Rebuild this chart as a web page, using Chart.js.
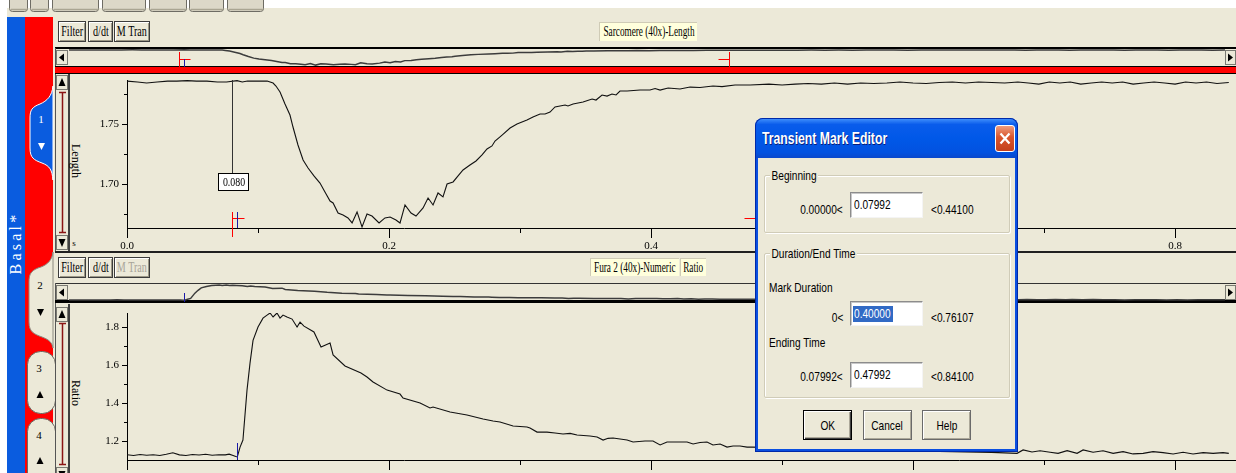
<!DOCTYPE html>
<html>
<head>
<meta charset="utf-8">
<title>Sarcomere length and Fura-2 ratio transient</title>
<script src="https://cdn.jsdelivr.net/npm/chart.js@4.4.1/dist/chart.umd.min.js"></script>
<style>
html,body{margin:0;padding:0}
body{width:1236px;height:473px;overflow:hidden;position:relative;background:#ECE9D8;font-family:"Liberation Serif","Times New Roman",serif;color:#000}
canvas{position:absolute;display:block}
#chrome{position:absolute;left:0;top:0}
.pbtn{position:absolute;box-sizing:border-box;height:21px;background:#ECE9D8;border:1px solid #3C3C3C;box-shadow:inset 1px 1px #fff,inset -1px -1px #9C9886;display:flex;align-items:center;justify-content:center;font-size:14px;overflow:hidden}
.pbtn span,.tag span{display:inline-block;white-space:nowrap;transform:scaleX(.72)}
.tag span{transform:scaleX(.66)}
.pbtn.dis{color:#A8A498}
.tag{position:absolute;box-sizing:border-box;height:19px;background:#FFFFDC;border-top:1px solid #CFCBB6;border-left:1px solid #CFCBB6;display:flex;align-items:center;justify-content:center;font-size:14px;overflow:hidden}
.vt{position:absolute;font-size:12px;white-space:nowrap;transform:translate(-50%,-50%) rotate(90deg)}
#dlg{position:absolute;left:755px;top:118px;width:263px;height:334px;background:#0A4FE0;border-radius:8px 8px 0 0;box-shadow:inset 0 0 0 1px #0029A8;font-family:"Liberation Sans",Arial,sans-serif;font-size:13.5px}
#dlg .bar{position:absolute;left:1px;top:1px;width:261px;height:39px;border-radius:7px 7px 0 0;background:linear-gradient(#3E8DFB 0%,#0A5CEB 14%,#0058E8 50%,#0252E0 86%,#0A48CC 100%)}
#dlg .body{position:absolute;left:3px;top:40px;width:257px;height:291px;background:#ECE9D8}
#dlg .ttl{position:absolute;left:7px;top:12px;font-size:17px;font-weight:bold;line-height:17px;color:#fff;white-space:nowrap;transform:scaleX(.72);transform-origin:0 0;text-shadow:1px 1px #0A1C78}
#dlg .x{position:absolute;left:240px;top:7px;width:20px;height:27px;box-sizing:border-box;border:1px solid #fff;border-radius:3px;background:linear-gradient(#EE9C7E,#D9552C 45%,#C4401C)}
#dlg .t{position:absolute;white-space:nowrap;line-height:14px;transform:scaleX(.75);transform-origin:0 0}
#dlg .tr{position:absolute;white-space:nowrap;line-height:14px;transform:scaleX(.75);transform-origin:100% 0}
#dlg .grp{position:absolute;box-sizing:border-box;border:1px solid #D0CCB8;box-shadow:inset 1px 1px #fff,1px 1px #fff;border-radius:2px}
#dlg .lg{background:#ECE9D8;padding:0 2px}
#dlg .in{position:absolute;box-sizing:border-box;width:73px;background:#fff;border-top:1px solid #8C8C8C;border-left:1px solid #8C8C8C;border-right:1px solid #F4F4F4;border-bottom:1px solid #F4F4F4;box-shadow:inset 1px 1px #C8C8C8}
#dlg .in .t{left:3px;top:5px}
#dlg .sel{position:absolute;left:2px;top:4px;width:40px;height:16px;background:#316AC5}
#dlg .btn{position:absolute;box-sizing:border-box;top:292px;width:49px;height:30px;background:#ECE9D8;border:1px solid #6A6A6A;box-shadow:inset 1px 1px #fff,inset -1px -1px #ACA899;display:flex;align-items:center;justify-content:center}
#dlg .btn span{display:inline-block;transform:scaleX(.75);white-space:nowrap}
#dlg .btn.def{border:1px solid #000;box-shadow:inset 1px 1px #fff,inset -1px -1px #404040,inset -2px -2px #ACA899}
</style>
</head>
<body>

<svg id="chrome" width="1236" height="473" xmlns="http://www.w3.org/2000/svg" font-family="Liberation Serif, serif">
  <rect x="0" y="0" width="1236" height="8" fill="#fff"/>
  <rect x="0" y="8" width="7" height="465" fill="#fff"/>
  <!-- toolbar button bottoms -->
  <g fill="#DCD8C8" stroke="#6E6C64">
    <rect x="9.5" y="-6.5" width="18" height="18" rx="3"/>
    <rect x="30.5" y="-6.5" width="18" height="18" rx="3"/>
    <rect x="52.5" y="-6.5" width="46" height="18" rx="3"/>
    <rect x="102.5" y="-6.5" width="43" height="18" rx="3"/>
    <rect x="149.5" y="-6.5" width="37" height="18" rx="3"/>
    <rect x="189.5" y="-6.5" width="34" height="18" rx="3"/>
    <rect x="227.5" y="-6.5" width="36" height="18" rx="3"/>
  </g>
  <g stroke="#A9A592" stroke-width="1.5">
    <line x1="11" y1="9.5" x2="27" y2="9.5"/><line x1="32" y1="9.5" x2="48" y2="9.5"/>
    <line x1="54" y1="9.5" x2="98" y2="9.5"/><line x1="104" y1="9.5" x2="145" y2="9.5"/>
    <line x1="151" y1="9.5" x2="186" y2="9.5"/><line x1="191" y1="9.5" x2="223" y2="9.5"/>
    <line x1="229" y1="9.5" x2="263" y2="9.5"/>
  </g>

  <!-- channel tabs -->
  <rect x="7" y="17" width="18" height="456" fill="#0A5CDF"/>
  <rect x="25" y="17" width="28" height="456" fill="#FF0000"/>
  <path d="M53,86 C52,96 47,101 40,104 C32,107 30,110 30,118 L30,148 C30,158 34,160 42,163 C50,166 52,170 53,180 Z" fill="#0A5CDF" stroke="#fff" stroke-width="1"/>
  <path d="M53,252 C52,262 45,266 38,268 C31,271 29,274 29,282 L29,322 C29,332 34,334 42,337 C50,340 52,343 53,348 Z" fill="#ECE9D8" stroke="#8C8A80" stroke-width="1"/>
  <rect x="27.5" y="351.5" width="28" height="62" rx="13" fill="#ECE9D8" stroke="#6C6A62"/>
  <rect x="27.5" y="418.5" width="28" height="70" rx="13" fill="#ECE9D8" stroke="#6C6A62"/>
  <g font-size="11" text-anchor="middle">
    <text x="41" y="123" fill="#fff">1</text>
    <text x="40" y="289">2</text>
    <text x="39" y="372">3</text>
    <text x="39" y="439">4</text>
  </g>
  <polygon points="38,143 45,143 41.5,150" fill="#fff"/>
  <polygon points="37,309 44,309 40.5,316" fill="#000"/>
  <polygon points="36.5,398 43.5,398 40,391" fill="#000"/>
  <polygon points="36.5,464 43.5,464 40,457" fill="#000"/>
  <text transform="translate(21,243) rotate(-90)" text-anchor="middle" font-size="16" letter-spacing="3.2" fill="#fff">Basal*</text>

  <!-- upper channel frame -->
  <rect x="55" y="47" width="1181" height="2" fill="#000"/>
  <rect x="55" y="48" width="1" height="204" fill="#555"/>
  <rect x="56.5" y="50.5" width="11" height="14" fill="#ECE9D8" stroke="#7A7A72"/>
  <polygon points="59,57.5 64,53.5 64,61.5" fill="#000"/>
  <rect x="1225.5" y="50.5" width="10" height="14" fill="#ECE9D8" stroke="#7A7A72"/>
  <polygon points="1233,57.5 1228,53.5 1228,61.5" fill="#000"/>
  <rect x="55" y="66" width="1181" height="1" fill="#000"/>
  <rect x="55" y="67" width="1181" height="6" fill="#FF0000"/>
  <rect x="55" y="73" width="1181" height="1" fill="#000"/>
  <rect x="56.5" y="75.5" width="11" height="14" fill="#ECE9D8" stroke="#7A7A72"/>
  <polygon points="62,78 58.5,86 65.5,86" fill="#000"/>
  <path d="M59,92.5 H66 M62.5,92.5 V232.5 M59,232.5 H66" stroke="#8B1414" stroke-width="1.5" fill="none"/>
  <rect x="56.5" y="235.5" width="11" height="14" fill="#ECE9D8" stroke="#7A7A72"/>
  <polygon points="62,247 58.5,239 65.5,239" fill="#000"/>
  <rect x="68" y="74" width="2" height="178" fill="#404040"/>
  <rect x="55" y="251" width="1181" height="2" fill="#202020"/>

  <!-- lower channel frame -->
  <rect x="55" y="283" width="1181" height="1" fill="#333"/>
  <rect x="55" y="283" width="1" height="190" fill="#555"/>
  <rect x="56.5" y="285.5" width="11" height="14" fill="#ECE9D8" stroke="#7A7A72"/>
  <polygon points="59,292.5 64,288.5 64,296.5" fill="#000"/>
  <rect x="1225.5" y="285.5" width="10" height="14" fill="#ECE9D8" stroke="#7A7A72"/>
  <polygon points="1233,292.5 1228,288.5 1228,296.5" fill="#000"/>
  <rect x="55" y="300" width="1181" height="3" fill="#000"/>
  <rect x="56.5" y="307.5" width="11" height="14" fill="#ECE9D8" stroke="#7A7A72"/>
  <polygon points="62,310 58.5,318 65.5,318" fill="#000"/>
  <path d="M59,323.5 H66 M62.5,323.5 V464.5 M59,464.5 H66" stroke="#8B1414" stroke-width="1.5" fill="none"/>
  <rect x="56.5" y="467.5" width="11" height="14" fill="#ECE9D8" stroke="#7A7A72"/>
  <polygon points="62,479 58.5,471 65.5,471" fill="#000"/>
  <rect x="68" y="304" width="2" height="169" fill="#404040"/>
</svg>

<!-- upper channel controls -->
<div class="pbtn" style="left:58px;top:21px;width:28px"><span>Filter</span></div>
<div class="pbtn" style="left:88px;top:21px;width:25px"><span>d/dt</span></div>
<div class="pbtn" style="left:114px;top:21px;width:36px"><span>M Tran</span></div>
<div class="tag" style="left:599px;top:22px;width:98px"><span>Sarcomere (40x)-Length</span></div>
<div class="vt" style="left:75px;top:161px">Length</div>
<div class="vt" style="left:74px;top:243px;font-size:9px;transform:translate(-50%,-50%)">s</div>

<!-- lower channel controls -->
<div class="pbtn" style="left:58px;top:257px;width:28px"><span>Filter</span></div>
<div class="pbtn" style="left:88px;top:257px;width:25px"><span>d/dt</span></div>
<div class="pbtn dis" style="left:114px;top:257px;width:36px"><span>M Tran</span></div>
<div class="tag" style="left:590px;top:258px;width:89px;height:18px"><span>Fura 2 (40x)-Numeric</span></div>
<div class="tag" style="left:680px;top:258px;width:26px;height:18px"><span>Ratio</span></div>
<div class="vt" style="left:75px;top:393px">Ratio</div>

<canvas id="lengthOverview" width="1156" height="19" style="left:69px;top:48px"></canvas>
<canvas id="lengthMain" width="1166" height="178" style="left:70px;top:74px"></canvas>
<canvas id="ratioOverview" width="1156" height="20" style="left:69px;top:284px"></canvas>
<canvas id="ratioMain" width="1166" height="168" style="left:70px;top:305px"></canvas>

<!-- mark editor dialog -->
<div id="dlg">
  <div class="bar"></div>
  <div class="ttl">Transient Mark Editor</div>
  <div class="x"><svg width="18" height="25" viewBox="0 0 18 25"><path d="M4.5,7.5 L13.5,17.5 M13.5,7.5 L4.5,17.5" stroke="#fff" stroke-width="2.2"/></svg></div>
  <div class="body"></div>

  <div class="grp" style="left:9px;top:57px;width:246px;height:58px"></div>
  <div class="t" style="left:15px;top:51px"><span class="lg">Beginning</span></div>
  <div class="tr" style="right:175px;top:85px">0.00000&lt;</div>
  <div class="in" style="left:95px;top:74px;height:26px"><div class="t">0.07992</div></div>
  <div class="t" style="left:176px;top:85px">&lt;0.44100</div>

  <div class="grp" style="left:9px;top:135px;width:246px;height:145px"></div>
  <div class="t" style="left:15px;top:129px"><span class="lg">Duration/End Time</span></div>
  <div class="t" style="left:14px;top:163px">Mark Duration</div>
  <div class="tr" style="right:175px;top:193px">0&lt;</div>
  <div class="in" style="left:95px;top:183px;height:25px"><div class="sel"></div><div class="t" style="color:#fff">0.40000</div></div>
  <div class="t" style="left:176px;top:193px">&lt;0.76107</div>
  <div class="t" style="left:14px;top:218px">Ending Time</div>
  <div class="tr" style="right:175px;top:252px">0.07992&lt;</div>
  <div class="in" style="left:95px;top:244px;height:26px"><div class="t">0.47992</div></div>
  <div class="t" style="left:176px;top:252px">&lt;0.84100</div>

  <div class="btn def" style="left:48px"><span>OK</span></div>
  <div class="btn" style="left:108px"><span>Cancel</span></div>
  <div class="btn" style="left:167px"><span>Help</span></div>
</div>

<script>
// ---- recorded transient: sarcomere length (um) against time (s) ----
const lengthTime = [
  0.000, 0.008, 0.015, 0.023, 0.031, 0.038, 0.046, 0.053, 0.061, 0.069,
  0.076, 0.084, 0.088, 0.092, 0.099, 0.107, 0.1115, 0.1137, 0.1168, 0.1206,
  0.1244, 0.1267, 0.1305, 0.1344, 0.1382, 0.1427, 0.1473, 0.1511, 0.1550, 0.1573,
  0.1611, 0.1649, 0.1687, 0.1718, 0.1756, 0.1794, 0.1832, 0.1870, 0.1924, 0.1969,
  0.2008, 0.2053, 0.2084, 0.2122, 0.2168, 0.2206, 0.2260, 0.2298, 0.2336, 0.2374,
  0.2412, 0.2443, 0.2489, 0.2527, 0.2565, 0.2618, 0.2664, 0.2710, 0.2748, 0.2786,
  0.2809, 0.2863, 0.2924, 0.2977, 0.3053, 0.3099, 0.3153, 0.3191, 0.3229, 0.3267,
  0.3344, 0.3366, 0.3405, 0.3481, 0.3550, 0.3580, 0.3626, 0.3664, 0.3702, 0.3733,
  0.3763, 0.3817, 0.3916, 0.3992, 0.4031, 0.4069, 0.4130, 0.4221, 0.4298, 0.4374,
  0.4473, 0.4542, 0.4641, 0.4756, 0.490, 0.500, 0.510, 0.520, 0.530, 0.540,
  0.550, 0.560, 0.570, 0.580, 0.590, 0.600, 0.610, 0.620, 0.630, 0.640,
  0.650, 0.660, 0.670, 0.680, 0.688, 0.696, 0.704, 0.712, 0.720, 0.728,
  0.736, 0.744, 0.752, 0.760, 0.768, 0.776, 0.784, 0.792, 0.800, 0.808,
  0.816, 0.824, 0.832, 0.841
];
const lengthValue = [
  1.7858, 1.7850, 1.7842, 1.7850, 1.7858, 1.7858, 1.7862, 1.7858, 1.7858, 1.7850,
  1.7850, 1.7862, 1.7850, 1.7858, 1.7858, 1.7858, 1.7842, 1.7817, 1.7767, 1.7667,
  1.7575, 1.7475, 1.7325, 1.7200, 1.7133, 1.7067, 1.7008, 1.6933, 1.6858, 1.6842,
  1.6758, 1.6742, 1.6717, 1.6675, 1.6767, 1.6642, 1.6750, 1.6733, 1.6675, 1.6717,
  1.6725, 1.6700, 1.6675, 1.6825, 1.6758, 1.6733, 1.6800, 1.6883, 1.6825, 1.6925,
  1.6892, 1.7000, 1.7017, 1.7067, 1.7117, 1.7158, 1.7192, 1.7242, 1.7292, 1.7317,
  1.7358, 1.7408, 1.7467, 1.7500, 1.7533, 1.7558, 1.7583, 1.7583, 1.7600, 1.7642,
  1.7658, 1.7650, 1.7667, 1.7683, 1.7708, 1.7700, 1.7742, 1.7733, 1.7750, 1.7742,
  1.7775, 1.7775, 1.7783, 1.7783, 1.7796, 1.7783, 1.7800, 1.7792, 1.7808, 1.7804,
  1.7817, 1.7812, 1.7825, 1.7825, 1.7833, 1.7825, 1.7833, 1.7838, 1.7833, 1.7842,
  1.7833, 1.7842, 1.7838, 1.7842, 1.7850, 1.7842, 1.7838, 1.7846, 1.7850, 1.7842,
  1.7850, 1.7846, 1.7842, 1.7850, 1.7842, 1.7833, 1.7850, 1.7842, 1.7850, 1.7833,
  1.7842, 1.7850, 1.7842, 1.7850, 1.7833, 1.7842, 1.7850, 1.7842, 1.7833, 1.7850,
  1.7842, 1.7850, 1.7838, 1.7846
];

// ---- recorded transient: Fura-2 340/380 ratio against time (s) ----
const ratioTime = [
  0.000, 0.005, 0.010, 0.015, 0.020, 0.025, 0.030, 0.035, 0.040, 0.045,
  0.050, 0.055, 0.060, 0.065, 0.070, 0.075, 0.078, 0.081, 0.083, 0.0842,
  0.0863, 0.0885, 0.0916, 0.0939, 0.0962, 0.1000, 0.1038, 0.1069, 0.1092, 0.1115,
  0.1145, 0.1168, 0.1191, 0.1221, 0.1260, 0.1298, 0.1321, 0.1351, 0.1427, 0.1481,
  0.1550, 0.1573, 0.1664, 0.1786, 0.1832, 0.1878, 0.1985, 0.2084, 0.2107, 0.2237,
  0.2313, 0.2336, 0.2466, 0.2595, 0.2718, 0.2794, 0.2847, 0.2947, 0.3053, 0.3076,
  0.3130, 0.3206, 0.3267, 0.3328, 0.3382, 0.3435, 0.3534, 0.3588, 0.3634, 0.3672,
  0.3710, 0.3817, 0.3863, 0.3954, 0.4015, 0.4069, 0.4122, 0.4221, 0.4275, 0.4321,
  0.4374, 0.4427, 0.4473, 0.4527, 0.4580, 0.4626, 0.4679, 0.4733, 0.4771, 0.490,
  0.500, 0.520, 0.540, 0.560, 0.580, 0.600, 0.620, 0.640, 0.660, 0.6794,
  0.6840, 0.6908, 0.6969, 0.7046, 0.7107, 0.7176, 0.7252, 0.7298, 0.7374, 0.7450,
  0.7527, 0.7603, 0.7679, 0.7756, 0.7832, 0.7908, 0.7985, 0.8061, 0.8137, 0.8214,
  0.8290, 0.8366, 0.8410
];
const ratioValue = [
  1.128, 1.124, 1.129, 1.125, 1.128, 1.124, 1.130, 1.138, 1.127, 1.124,
  1.129, 1.126, 1.130, 1.125, 1.128, 1.127, 1.131, 1.124, 1.118, 1.116,
  1.168, 1.205, 1.468, 1.610, 1.730, 1.800, 1.847, 1.863, 1.874, 1.853,
  1.874, 1.847, 1.863, 1.853, 1.842, 1.800, 1.826, 1.805, 1.774, 1.695,
  1.716, 1.653, 1.595, 1.558, 1.537, 1.511, 1.468, 1.447, 1.426, 1.400,
  1.374, 1.379, 1.353, 1.337, 1.316, 1.305, 1.300, 1.279, 1.274, 1.268,
  1.247, 1.247, 1.242, 1.237, 1.240, 1.232, 1.226, 1.221, 1.205, 1.214,
  1.216, 1.205, 1.195, 1.200, 1.200, 1.179, 1.195, 1.195, 1.195, 1.184,
  1.192, 1.195, 1.179, 1.184, 1.168, 1.174, 1.174, 1.168, 1.168, 1.166,
  1.160, 1.158, 1.155, 1.150, 1.149, 1.146, 1.145, 1.142, 1.140, 1.135,
  1.153, 1.142, 1.149, 1.141, 1.135, 1.149, 1.135, 1.153, 1.141, 1.149,
  1.135, 1.144, 1.132, 1.135, 1.144, 1.139, 1.132, 1.141, 1.132, 1.139,
  1.135, 1.139, 1.135
];

// ---- axis ticks ----
const timeTicks = [0.0, 0.2, 0.4, 0.6, 0.8];
const timeMinorTicks = [0.1, 0.3, 0.5, 0.7];
const lengthTicks = [1.70, 1.75];
const lengthMinorTicks = [1.675, 1.725, 1.775];
const ratioTicks = [1.2, 1.4, 1.6, 1.8];
const ratioMinorTicks = [1.3, 1.5, 1.7];

// ---- transient marks (s) ----
const markStart = 0.07992;
const markEnd = 0.47992;
const onsetTime = 0.084;
const cursorTime = 0.080;
const cursorLabelLevel = 1.7017;

const AXIS = '#000';
const RED = '#FF0000';
const BLUE = '#1A1AA8';
const TRACE = '#111';
const OVERVIEW = '#3C3C3C';
const tickFont = { family: 'Liberation Serif', size: 11 };

const toPoints = (xs, ys) => xs.map((t, i) => ({ x: t, y: ys[i] }));

// Tick marks, transient marks and the time cursor, placed through the chart scales.
const decorations = {
  id: 'decorations',
  afterDraw(chart, _args, o) {
    const { ctx, chartArea: a } = chart;
    const xs = chart.scales.x, ys = chart.scales.y;
    const px = v => Math.round(xs.getPixelForValue(v)) + 0.5;
    const py = v => Math.round(ys.getPixelForValue(v)) + 0.5;
    const bottom = Math.round(a.bottom), left = Math.round(a.left), top = Math.round(a.top);
    const seg = (x1, y1, x2, y2, c) => {
      ctx.strokeStyle = c; ctx.beginPath(); ctx.moveTo(x1, y1); ctx.lineTo(x2, y2); ctx.stroke();
    };
    ctx.save();
    ctx.lineWidth = 1;
    (o.xTicks || []).forEach(([vals, len]) => vals.forEach(v => seg(px(v), bottom, px(v), bottom + len, AXIS)));
    (o.yTicks || []).forEach(([vals, len]) => vals.forEach(v => seg(left - len, py(v), left + 1, py(v), AXIS)));
    (o.marks || []).forEach(m => {
      const ref = m.ref === 'top' ? top : bottom;
      const x = px(m.t);
      seg(x, ref + m.y1, x, ref + m.y2, m.color);
      if (m.bar) seg(x, ref + m.bar[0] + 0.5, x + m.bar[1], ref + m.bar[0] + 0.5, m.color);
    });
    if (o.cursor) {
      const c = o.cursor;
      const x = px(c.t);
      const cy = ys.getPixelForValue(c.level);
      const bx = Math.round(x - 14.5), by = Math.round(cy - 9);
      seg(x, top, x, by, '#333');
      ctx.fillStyle = '#fff';
      ctx.fillRect(bx, by, 31, 18);
      ctx.strokeStyle = '#000';
      ctx.strokeRect(bx + 0.5, by + 0.5, 30, 17);
      ctx.fillStyle = '#000';
      ctx.font = '12px "Liberation Serif"';
      ctx.textAlign = 'center';
      ctx.textBaseline = 'middle';
      ctx.translate(bx + 16, by + 9.5);
      ctx.scale(0.82, 1);
      ctx.fillText(c.t.toFixed(3), 0, 0);
    }
    ctx.restore();
  }
};

const baseOptions = () => ({
  responsive: false,
  animation: false,
  devicePixelRatio: 1,
  events: [],
  plugins: { legend: { display: false }, tooltip: { enabled: false } }
});

const lineSet = (data, color, width) => ({
  data, borderColor: color, borderWidth: width, pointRadius: 0, tension: 0, fill: false
});

const lengthPoints = toPoints(lengthTime, lengthValue);
const ratioPoints = toPoints(ratioTime, ratioValue);

function mainChart(id, points, y, padTop, xHeight, showTimeLabels, marks, cursor) {
  const opts = baseOptions();
  opts.layout = { padding: { top: padTop, left: 0, right: 0, bottom: 0 } };
  opts.plugins.decorations = {
    xTicks: [[timeTicks, 10], [timeMinorTicks, 5]],
    yTicks: [[y.ticks, 5], [y.minor, 3]],
    marks, cursor
  };
  opts.scales = {
    x: {
      type: 'linear', min: 0, max: 0.8465,
      grid: { display: false, drawTicks: false },
      border: { display: true, color: AXIS, width: 1 },
      afterBuildTicks: s => { s.ticks = timeTicks.map(v => ({ value: v })); },
      afterFit: s => { s.height = xHeight; s.paddingLeft = 0; s.paddingRight = 0; },
      ticks: { display: showTimeLabels, font: tickFont, color: '#000', padding: 12, maxRotation: 0, autoSkip: false,
               callback: v => Number(v).toFixed(1) }
    },
    y: {
      type: 'linear', min: y.min, max: y.max,
      grid: { display: false, drawTicks: false },
      border: { display: true, color: AXIS, width: 1 },
      afterBuildTicks: s => { s.ticks = y.ticks.map(v => ({ value: v })); },
      afterFit: s => { s.width = 57; s.paddingTop = 0; s.paddingBottom = 0; },
      ticks: { font: tickFont, color: '#000', padding: 8, callback: v => Number(v).toFixed(y.digits) }
    }
  };
  return new Chart(document.getElementById(id), {
    type: 'line',
    data: { datasets: [lineSet(points, TRACE, 1.1)] },
    options: opts,
    plugins: [decorations]
  });
}

function overviewChart(id, points, yMin, yMax, marks) {
  const opts = baseOptions();
  opts.layout = { padding: 0 };
  opts.plugins.decorations = { marks };
  opts.scales = {
    x: { type: 'linear', display: false, min: 0, max: 0.841 },
    y: { type: 'linear', display: false, min: yMin, max: yMax }
  };
  return new Chart(document.getElementById(id), {
    type: 'line',
    data: { datasets: [lineSet(points, OVERVIEW, 1.5)] },
    options: opts,
    plugins: [decorations]
  });
}

overviewChart('lengthOverview', lengthPoints, 1.649, 1.801, [
  { t: markStart, color: RED, ref: 'top', y1: 4, y2: 19, bar: [11, 11] },
  { t: onsetTime, color: BLUE, ref: 'top', y1: 11, y2: 19 },
  { t: markEnd, color: RED, ref: 'top', y1: 4, y2: 19, bar: [11, -11] }
]);

mainChart('lengthMain', lengthPoints,
  { min: 1.6633, max: 1.7867, ticks: lengthTicks, minor: lengthMinorTicks, digits: 2 },
  6, 24, true,
  [
    { t: markStart, color: RED, y1: -16, y2: 9, bar: [-10, 12] },
    { t: onsetTime, color: BLUE, y1: -16, y2: 0 },
    { t: markEnd, color: RED, y1: -16, y2: 9, bar: [-10, -12] }
  ],
  { t: cursorTime, level: cursorLabelLevel }
);

overviewChart('ratioOverview', ratioPoints, 0.9265, 1.924, [
  { t: onsetTime, color: BLUE, ref: 'top', y1: 9, y2: 18 }
]);

mainChart('ratioMain', ratioPoints,
  { min: 1.1, max: 1.874, ticks: ratioTicks, minor: ratioMinorTicks, digits: 1 },
  8, 13, false,
  [ { t: onsetTime, color: BLUE, y1: -17, y2: 0 } ],
  null
);
</script>
</body>
</html>
